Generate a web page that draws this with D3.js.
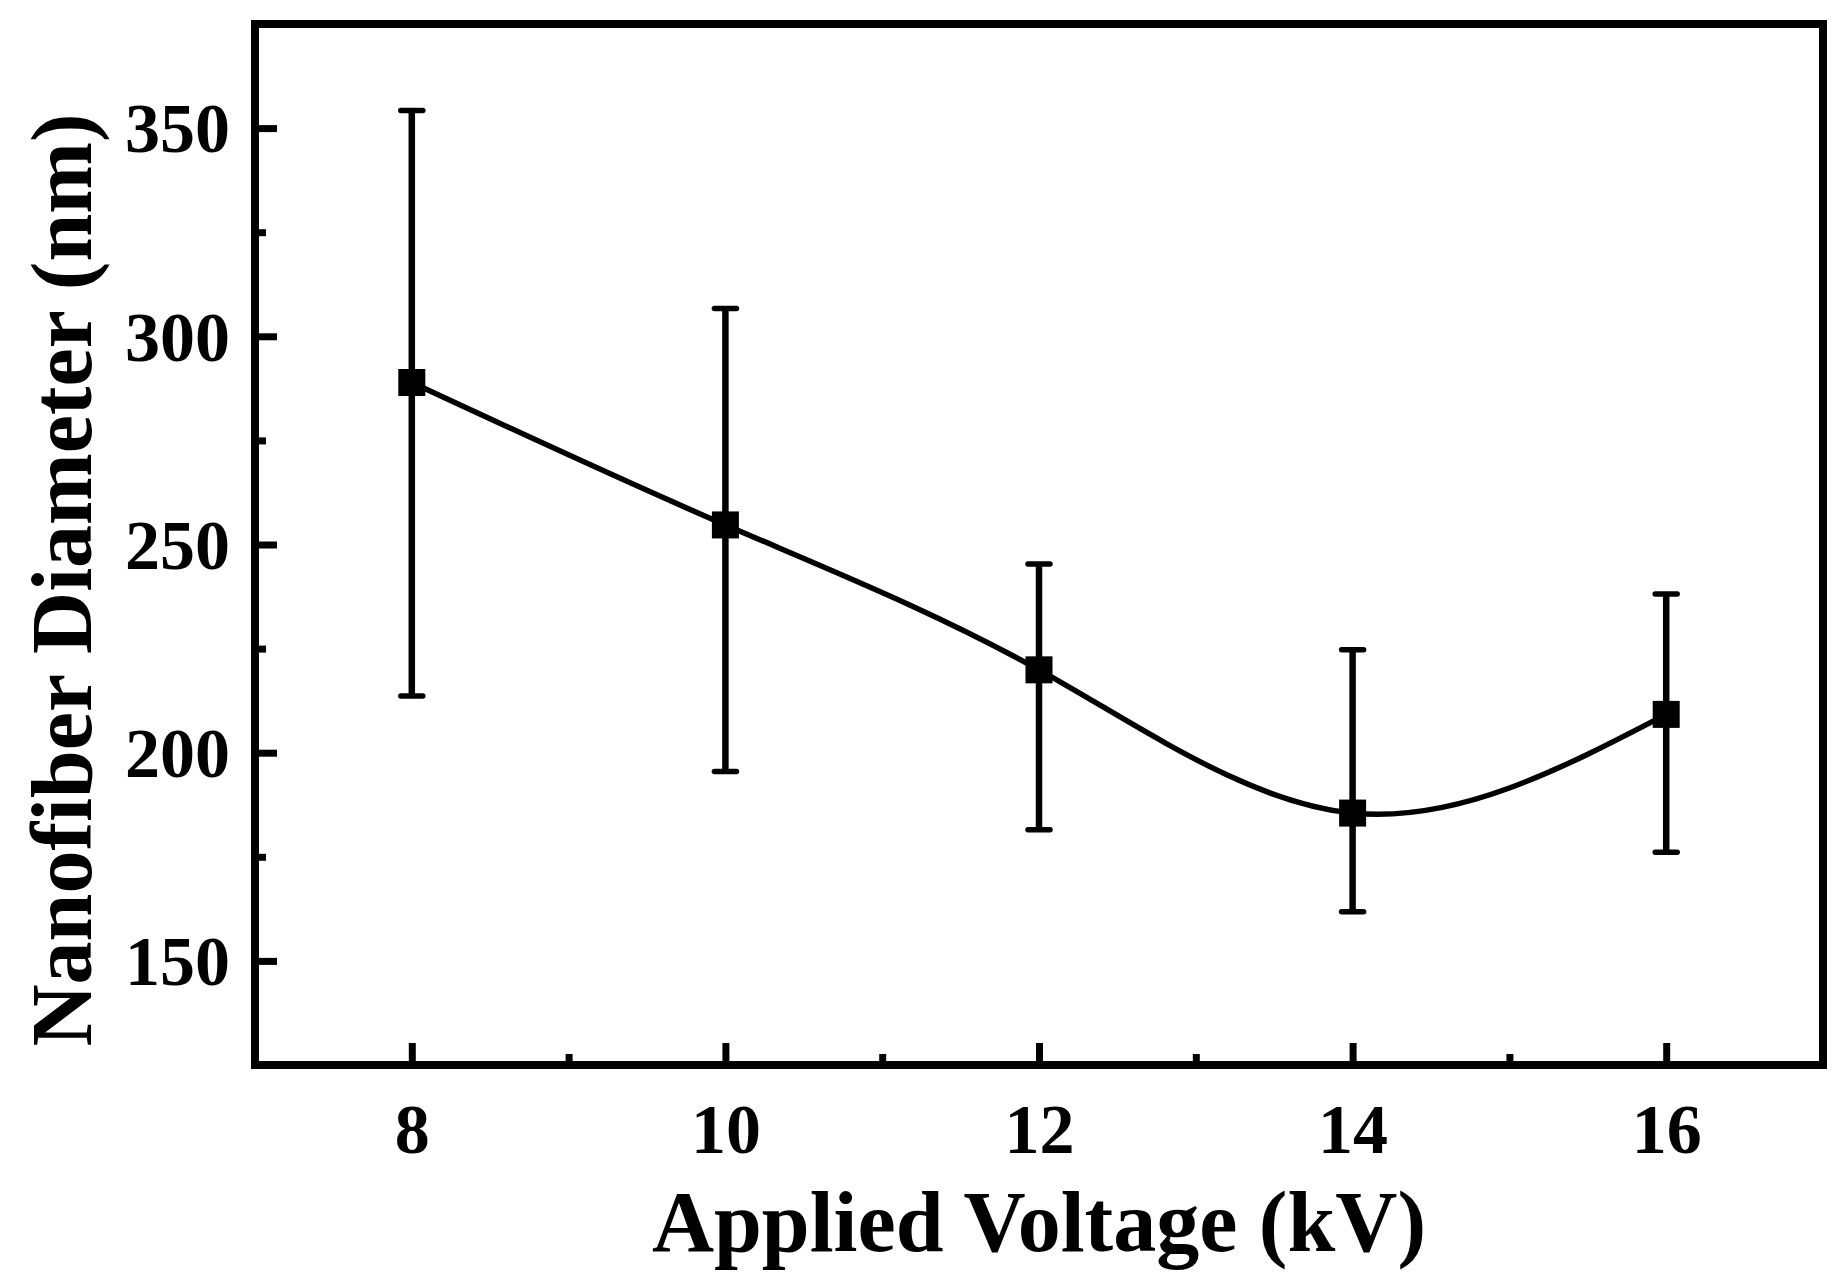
<!DOCTYPE html>
<html>
<head>
<meta charset="utf-8">
<script src="https://cdn.jsdelivr.net/npm/d3@7"></script>
<style>
  body { margin: 0; background: #fff; }
  text { font-family: "Liberation Serif", "Times New Roman", serif; font-weight: bold; fill: #000; }
</style>
</head>
<body>
<div id="chart"></div>
<script>
// values
const voltage = [8, 10, 12, 14, 16];
const diameter = [288.9, 254.7, 219.9, 185.5, 209.2];
const errUpper = [354.2, 306.7, 245.3, 224.7, 238.1];
const errLower = [213.6, 195.5, 181.5, 161.8, 176.1];
const xTicks = [8, 10, 12, 14, 16];
const xMinor = [9, 11, 13, 15];
const yTicks = [150, 200, 250, 300, 350];
const yMinor = [175, 225, 275, 325];

const width = 1846, height = 1283;
const plot = {left: 255, right: 1823, top: 24, bottom: 1065};

const svg = d3.select('#chart').append('svg')
    .attr('width', width)
    .attr('height', height);

svg.append('rect').attr('width', width).attr('height', height).attr('fill', '#fff');

const x = d3.scaleLinear().domain([7, 17]).range([plot.left, plot.right]);
const y = d3.scaleLinear().domain([125, 375]).range([plot.bottom, plot.top]);

// axes - ticks point inward
const xAxis = svg.append('g')
    .attr('transform', `translate(0,${plot.bottom})`)
    .call(d3.axisBottom(x).tickValues(xTicks).tickSizeInner(-22).tickSizeOuter(0).tickPadding(38));
const xAxisMinor = svg.append('g')
    .attr('transform', `translate(0,${plot.bottom})`)
    .call(d3.axisBottom(x).tickValues(xMinor).tickSizeInner(-11).tickSizeOuter(0).tickFormat(''));

const yAxis = svg.append('g')
    .attr('transform', `translate(${plot.left},0)`)
    .call(d3.axisLeft(y).tickValues(yTicks).tickSizeInner(-22).tickSizeOuter(0).tickPadding(25));
const yAxisMinor = svg.append('g')
    .attr('transform', `translate(${plot.left},0)`)
    .call(d3.axisLeft(y).tickValues(yMinor).tickSizeInner(-11).tickSizeOuter(0).tickFormat(''));

[xAxis, xAxisMinor, yAxis, yAxisMinor].forEach(g => {
    g.select('.domain').remove();
    g.selectAll('.tick line').attr('stroke', '#000').attr('stroke-width', 7);
    g.selectAll('.tick text').style('font-size', '70px');
});
xAxis.selectAll('.tick text').attr('dy', '0.71em');
yAxis.selectAll('.tick text').attr('dy', '0.34em');

// frame
svg.append('rect')
    .attr('x', plot.left)
    .attr('y', plot.top)
    .attr('width', plot.right - plot.left)
    .attr('height', plot.bottom - plot.top)
    .attr('fill', 'none')
    .attr('stroke', '#000')
    .attr('stroke-width', 8);

// spline through the means
const line = d3.line()
    .x((d, i) => x(voltage[i]))
    .y(d => y(d))
    .curve(d3.curveNatural);

svg.append('path')
    .datum(diameter)
    .attr('d', line)
    .attr('fill', 'none')
    .attr('stroke', '#000')
    .attr('stroke-width', 5.5);

// error bars
const bars = svg.append('g').selectAll('g')
    .data(voltage)
    .enter()
    .append('g');

bars.append('line')
    .attr('x1', d => x(d)).attr('x2', d => x(d))
    .attr('y1', (d, i) => y(errUpper[i]))
    .attr('y2', (d, i) => y(errLower[i]))
    .attr('stroke', '#000').attr('stroke-width', 6.5);

bars.append('line')
    .attr('x1', d => x(d) - 11).attr('x2', d => x(d) + 11)
    .attr('y1', (d, i) => y(errUpper[i]))
    .attr('y2', (d, i) => y(errUpper[i]))
    .attr('stroke', '#000').attr('stroke-width', 5.5).attr('stroke-linecap', 'round');

bars.append('line')
    .attr('x1', d => x(d) - 11).attr('x2', d => x(d) + 11)
    .attr('y1', (d, i) => y(errLower[i]))
    .attr('y2', (d, i) => y(errLower[i]))
    .attr('stroke', '#000').attr('stroke-width', 5.5).attr('stroke-linecap', 'round');

// square markers
const size = 27;
svg.append('g').selectAll('rect')
    .data(diameter)
    .enter()
    .append('rect')
    .attr('x', (d, i) => x(voltage[i]) - size / 2)
    .attr('y', d => y(d) - size / 2)
    .attr('width', size)
    .attr('height', size)
    .attr('fill', '#000');

// axis titles
svg.append('text')
    .attr('x', (plot.left + plot.right) / 2)
    .attr('y', 1251)
    .attr('text-anchor', 'middle')
    .style('font-size', '86px')
    .text('Applied Voltage (kV)');

svg.append('text')
    .attr('transform', 'translate(91,580) rotate(-90)')
    .attr('text-anchor', 'middle')
    .style('font-size', '86px')
    .text('Nanofiber Diameter (nm)');
</script>
</body>
</html>
